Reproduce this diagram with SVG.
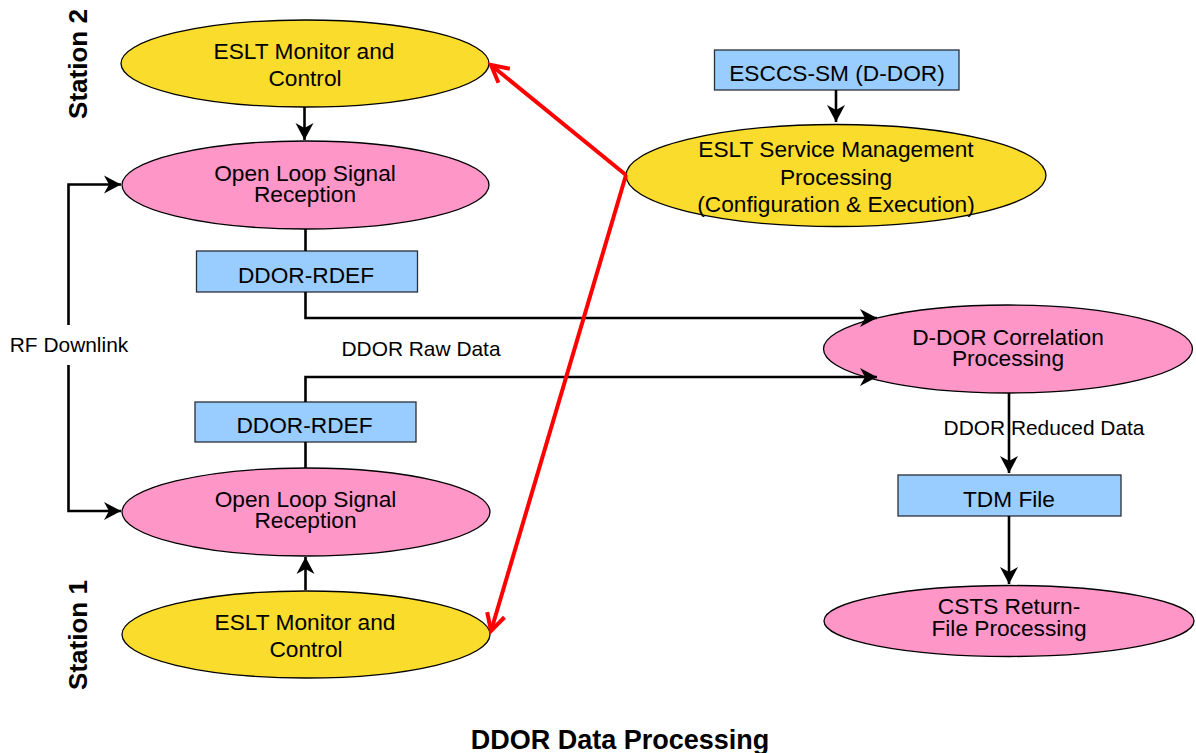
<svg xmlns="http://www.w3.org/2000/svg" width="1196" height="753" viewBox="0 0 1196 753">
<style>
text{font-family:"Liberation Sans",Arial,sans-serif;fill:#000;text-anchor:middle}
.n{font-size:22.700px}
.l{font-size:20.900px}
.b{font-weight:bold;font-size:26px}
.t{font-weight:bold;font-size:27px}
.y{fill:#fadc2d;stroke:#000;stroke-width:1.3}
.p{fill:#ff96c8;stroke:#000;stroke-width:1.3}
.r{fill:#99ccff;stroke:#2a3038;stroke-width:1.3}
.c{fill:none;stroke:#000;stroke-width:2.6}
.a{fill:none;stroke:#f00;stroke-width:4}
</style>
<defs>
<marker id="ah" markerUnits="userSpaceOnUse" markerWidth="20" markerHeight="20" refX="17" refY="9" orient="auto" overflow="visible"><path d="M0 0L17 9L0 18L5 9Z" fill="#000"/></marker>
<marker id="ar" markerUnits="userSpaceOnUse" markerWidth="24" markerHeight="24" refX="18" refY="10" orient="auto" overflow="visible"><path d="M1 1L18 10L1 19" fill="none" stroke="#f00" stroke-width="4"/></marker>
</defs>
<g id="station2-monitor"><ellipse class="y" cx="305" cy="63.500" rx="184" ry="43.500"/><text class="n" x="304" y="59">ESLT Monitor and</text><text class="n" x="305" y="86">Control</text></g>
<g id="station2-reception"><ellipse class="p" cx="305.500" cy="185" rx="183.500" ry="44"/><text class="n" x="305" y="181">Open Loop Signal</text><text class="n" x="305" y="202">Reception</text></g>
<g id="station2-rdef"><rect class="r" x="196.500" y="251" width="221" height="41"/><text class="n" x="306" y="283">DDOR-RDEF</text></g>
<g id="esccs"><rect class="r" x="714.500" y="50" width="244.500" height="40"/><text class="n" x="837" y="81">ESCCS-SM (D-DOR)</text></g>
<g id="management"><ellipse class="y" cx="836" cy="175.500" rx="210" ry="51"/><text class="n" x="836" y="157">ESLT Service Management</text><text class="n" x="836" y="185">Processing</text><text class="n" x="836" y="212">(Configuration &amp; Execution)</text></g>
<g id="correlation"><ellipse class="p" cx="1008" cy="349" rx="184.500" ry="44"/><text class="n" x="1008" y="345">D-DOR Correlation</text><text class="n" x="1008" y="366">Processing</text></g>
<g id="station1-rdef"><rect class="r" x="195" y="402" width="221" height="40"/><text class="n" x="304.500" y="433">DDOR-RDEF</text></g>
<g id="station1-reception"><ellipse class="p" cx="306" cy="512" rx="184" ry="44"/><text class="n" x="305.500" y="507">Open Loop Signal</text><text class="n" x="305.500" y="528">Reception</text></g>
<g id="station1-monitor"><ellipse class="y" cx="306" cy="634.500" rx="184" ry="43.500"/><text class="n" x="305" y="630">ESLT Monitor and</text><text class="n" x="306" y="657">Control</text></g>
<g id="tdm"><rect class="r" x="898" y="475" width="223" height="41"/><text class="n" x="1009" y="507">TDM File</text></g>
<g id="csts"><ellipse class="p" cx="1009" cy="621" rx="185" ry="35.500"/><text class="n" x="1009" y="614">CSTS Return-</text><text class="n" x="1009" y="636">File Processing</text></g>
<g id="connectors">
<path class="c" d="M304.500 107V140" marker-end="url(#ah)"/>
<path class="c" d="M68.500 325V184.500H121" marker-end="url(#ah)"/>
<path class="c" d="M68.500 365V511H121" marker-end="url(#ah)"/>
<path class="c" d="M305.500 292V318H877" marker-end="url(#ah)"/>
<path class="c" d="M305.500 402V377H877" marker-end="url(#ah)"/>
<path class="c" d="M305.500 229V251"/>
<path class="c" d="M305.500 442V468"/>
<path class="c" d="M305.500 590V557" marker-end="url(#ah)"/>
<path class="c" d="M836 90V122" marker-end="url(#ah)"/>
<path class="c" d="M1009 393V473" marker-end="url(#ah)"/>
<path class="c" d="M1009 516V584" marker-end="url(#ah)"/>
<path class="a" d="M626 175L491 65" marker-end="url(#ar)"/>
<path class="a" d="M626 175L491 631" marker-end="url(#ar)"/>
</g>
<g id="labels">
<text class="l" x="69" y="352">RF Downlink</text>
<text class="l" x="421" y="356">DDOR Raw Data</text>
<text class="l" x="1044" y="435">DDOR Reduced Data</text>
<text class="b" transform="translate(87 64) rotate(-90)">Station 2</text>
<text class="b" transform="translate(87 635) rotate(-90)">Station 1</text>
<text class="t" x="620" y="749">DDOR Data Processing</text>
</g>
</svg>
